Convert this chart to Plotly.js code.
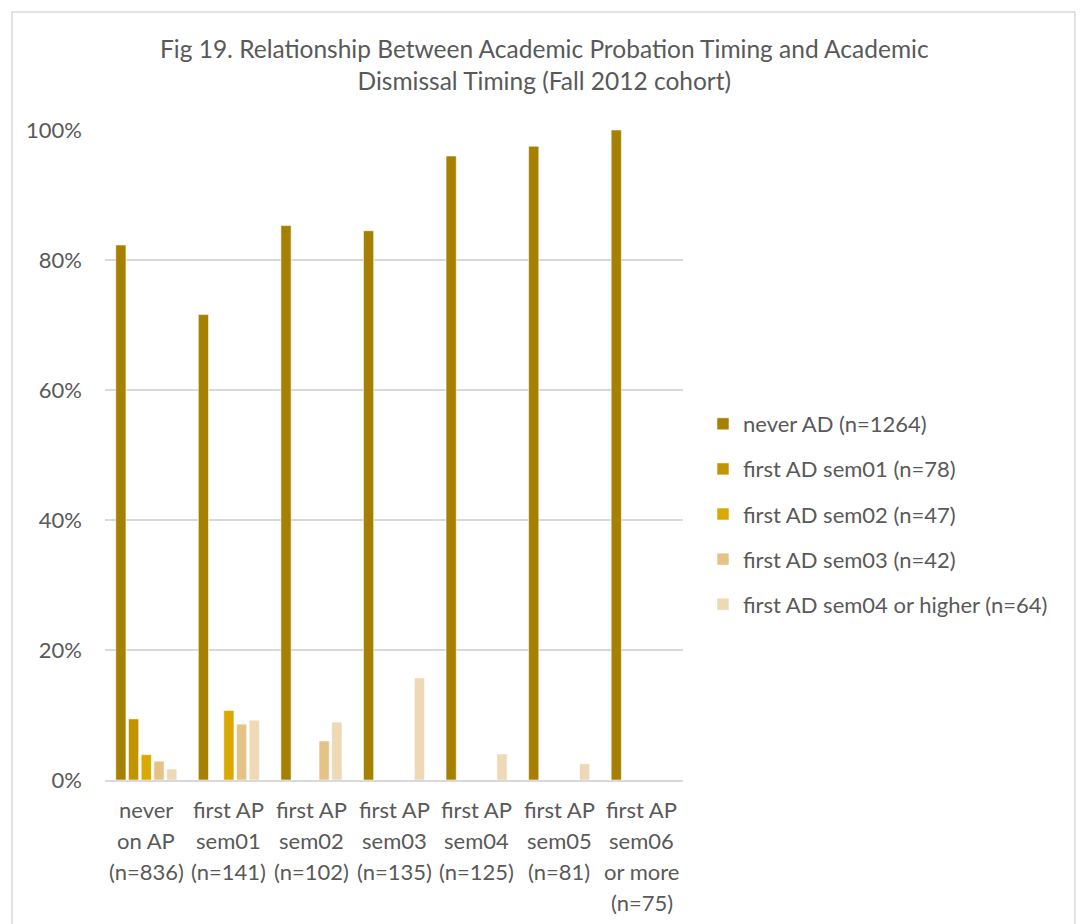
<!DOCTYPE html>
<html>
<head>
<meta charset="utf-8">
<script src="https://cdn.plot.ly/plotly-3.0.1.min.js"></script>
<style>
  html, body { margin: 0; padding: 0; background: #fff; }
  #chart { width: 1080px; height: 924px; }
</style>
</head>
<body>
<div id="chart"></div>
<script>
// ---- data ----
const categories = ["never on AP", "first AP sem01", "first AP sem02", "first AP sem03", "first AP sem04", "first AP sem05", "first AP sem06 or more"];
const categoryLabels = [
  "never<br>on AP<br>(n=836)",
  "first AP<br>sem01<br>(n=141)",
  "first AP<br>sem02<br>(n=102)",
  "first AP<br>sem03<br>(n=135)",
  "first AP<br>sem04<br>(n=125)",
  "first AP<br>sem05<br>(n=81)",
  "first AP<br>sem06<br>or more<br>(n=75)"
];
const seriesNames = ["never AD (n=1264)", "first AD sem01 (n=78)", "first AD sem02 (n=47)", "first AD sem03 (n=42)", "first AD sem04 or higher (n=64)"];
const neverAD   = [0.823, 0.716, 0.853, 0.845, 0.960, 0.975, 1.000];
const adSem01   = [0.094, null,  null,  null,  null,  null,  null];
const adSem02   = [0.039, 0.107, null,  null,  null,  null,  null];
const adSem03   = [0.029, 0.086, 0.060, null,  null,  null,  null];
const adSem04up = [0.017, 0.092, 0.089, 0.157, 0.040, 0.025, null];
const yTickVals = [0, 0.2, 0.4, 0.6, 0.8, 1.0];
const yTickText = ["0%", "20%", "40%", "60%", "80%", "100%"];
const titleText = "Fig 19. Relationship Between Academic Probation Timing and Academic<br>Dismissal Timing (Fall 2012 cohort)";

// ---- styles ----
const colors = ["#a68000", "#c29400", "#daa900", "#e5c286", "#eed8b5"];
const FONT = "Lato, 'Open Sans', sans-serif";
const TXT = "#595959";

const seriesValues = [neverAD, adSem01, adSem02, adSem03, adSem04up];
const traces = seriesValues.map((vals, i) => ({
  type: "bar",
  x: categories,
  y: vals,
  name: seriesNames[i],
  legendgroup: "g" + i,
  marker: { color: colors[i], line: { color: "rgba(255,255,255,0.55)", width: 1 } },
  hoverinfo: "x+y+name"
}));

// category labels as line-by-line annotations (to match line spacing)
const annotations = [];
categoryLabels.forEach((lab, ci) => {
  lab.split("<br>").forEach((line, li) => {
    annotations.push({
      xref: "x", yref: "paper",
      x: categories[ci], y: 0,
      yanchor: "middle", xanchor: "center",
      yshift: -(29 + 31 * li),
      text: line, showarrow: false,
      font: { family: FONT, size: 22, color: TXT }
    });
  });
});

const layout = {
  width: 1080, height: 924,
  paper_bgcolor: "#ffffff", plot_bgcolor: "#ffffff",
  margin: { l: 105, r: 397, t: 130, b: 144 },
  font: { family: FONT, color: TXT, size: 18 },
  title: {
    text: titleText,
    font: { family: FONT, size: 24.5, color: TXT },
    x: 0.504, xanchor: "center", xref: "container",
    y: 0.937, yanchor: "middle", yref: "container"
  },
  barmode: "group",
  bargap: 0.23,
  bargroupgap: 0.2,
  xaxis: {
    type: "category",
    showticklabels: false,
    showgrid: false,
    showline: true, linecolor: "#d9d9d9", linewidth: 1.5,
    ticks: "",
    fixedrange: true
  },
  yaxis: {
    range: [0, 1],
    tickvals: yTickVals, ticktext: yTickText,
    tickfont: { family: FONT, size: 22, color: TXT },
    showgrid: true, gridcolor: "#d9d9d9", gridwidth: 1.3,
    zeroline: false, showline: false,
    ticks: "", ticklen: 0,
    ticklabelstandoff: 22,
    automargin: false
  },
  legend: {
    x: 1.0346, xanchor: "left",
    y: 0.580, yanchor: "top",
    font: { family: FONT, size: 22, color: TXT },
    traceorder: "grouped",
    tracegroupgap: 13.5,
    itemclick: false
  },
  annotations: annotations,
  shapes: [{
    type: "rect", xref: "paper", yref: "paper",
    x0: -0.1609, x1: 1.678, y0: -0.25, y1: 1.1815,
    line: { color: "#d9d9d9", width: 1.5 },
    fillcolor: "rgba(0,0,0,0)", layer: "below"
  }]
};

Plotly.newPlot("chart", traces, layout, { displayModeBar: false, staticPlot: true });
</script>
</body>
</html>
